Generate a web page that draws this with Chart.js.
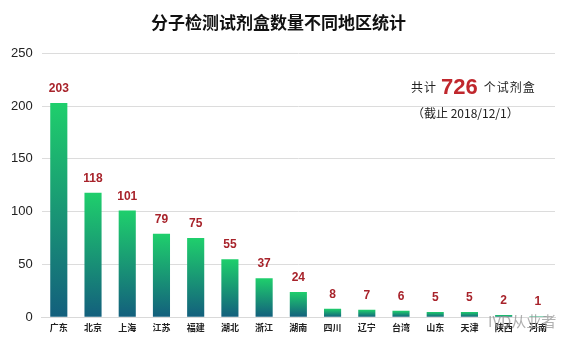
<!DOCTYPE html>
<html>
<head>
<meta charset="utf-8">
<script src="https://cdn.jsdelivr.net/npm/chart.js@4"></script>
<style>
  html, body { margin: 0; padding: 0; background: #fff; }
  #wrap { width: 569px; height: 342px; position: relative; }
</style>
</head>
<body>
<div id="wrap"><canvas id="c" width="569" height="342"></canvas></div>
<script>
const regions = ["广东", "北京", "上海", "江苏", "福建", "湖北", "浙江", "湖南", "四川", "辽宁", "台湾", "山东", "天津", "陕西", "河南"];
const kitCounts = [203, 118, 101, 79, 75, 55, 37, 24, 8, 7, 6, 5, 5, 2, 1];
const yTicks = [0, 50, 100, 150, 200, 250];
const totalKits = 726;
const asOfDate = "2018/12/1";

function barGradient(ctx) {
  const chart = ctx.chart;
  const y = chart.scales.y;
  if (!y || ctx.type !== "data") return "#1aa870";
  const top = y.getPixelForValue(ctx.raw);
  const base = y.getPixelForValue(0);
  if (!isFinite(top) || !isFinite(base) || top === base) return "#1aa870";
  const g = chart.ctx.createLinearGradient(0, top, 0, base);
  g.addColorStop(0, "#1fcf6c");
  g.addColorStop(1, "#135f7d");
  return g;
}

const valueLabels = {
  id: "valueLabels",
  afterDatasetsDraw(chart) {
    const c = chart.ctx;
    const meta = chart.getDatasetMeta(0);
    c.save();
    c.font = "bold 12px 'Liberation Sans', Arial, sans-serif";
    c.fillStyle = "#a8232b";
    c.textAlign = "center";
    c.textBaseline = "bottom";
    meta.data.forEach((bar, i) => {
      c.fillText(kitCounts[i], bar.x, bar.y - 8);
    });
    c.restore();
  }
};

const notes = {
  id: "notes",
  afterDraw(chart) {
    const c = chart.ctx;
    c.save();
    c.textBaseline = "alphabetic";
    c.textAlign = "left";
    const cjk = "'Noto Sans CJK SC', sans-serif";
    let x = 411;
    const yLine = 92;
    c.fillStyle = "#222";
    c.font = "12px " + cjk;
    c.letterSpacing = "1px";
    c.fillText("共计", x, yLine);
    x += c.measureText("共计").width + 4;
    c.letterSpacing = "0px";
    c.font = "bold 22px 'Liberation Sans', Arial, sans-serif";
    c.fillStyle = "#c0272d";
    c.fillText(String(totalKits), x, yLine + 2);
    x += c.measureText(String(totalKits)).width + 6;
    c.fillStyle = "#222";
    c.font = "12px " + cjk;
    c.letterSpacing = "1px";
    c.fillText("个试剂盒", x, yLine);
    c.letterSpacing = "0px";
    c.font = "12px " + cjk;
    c.fillText("（截止 " + asOfDate + "）", 412, 118);
    // watermark
    c.fillStyle = "rgba(150,150,150,0.75)";
    c.font = "15px " + cjk;
    c.fillText("IVD从业者", 488, 327);
    c.restore();
  }
};

new Chart(document.getElementById("c"), {
  type: "bar",
  data: {
    labels: regions,
    datasets: [{
      data: kitCounts,
      backgroundColor: barGradient,
      barPercentage: 0.5,
      categoryPercentage: 1.0
    }]
  },
  options: {
    responsive: false,
    animation: false,
    layout: { padding: { left: 2, right: 14, top: 8, bottom: 4 } },
    plugins: {
      legend: { display: false },
      tooltip: { enabled: false },
      title: {
        display: true,
        text: "分子检测试剂盒数量不同地区统计",
        color: "#111",
        font: { family: "'Noto Sans CJK SC', sans-serif", size: 17, weight: "bold" },
        padding: { top: 4, bottom: 21 }
      }
    },
    scales: {
      x: {
        grid: { display: false, drawTicks: false },
        border: { color: "#d9d9d9" },
        ticks: {
          color: "#222",
          padding: 5,
          maxRotation: 0,
          autoSkip: false,
          font: { family: "'Noto Sans CJK SC', sans-serif", size: 9, weight: "bold" }
        }
      },
      y: {
        min: 0,
        max: 250,
        afterBuildTicks(axis) { axis.ticks = yTicks.map(v => ({ value: v })); },
        grid: { color: "#dcdcdc", drawTicks: false },
        border: { display: false },
        ticks: {
          color: "#222",
          padding: 9,
          font: { family: "'Liberation Sans', Arial, sans-serif", size: 13 }
        }
      }
    }
  },
  plugins: [valueLabels, notes]
});
</script>
</body>
</html>
